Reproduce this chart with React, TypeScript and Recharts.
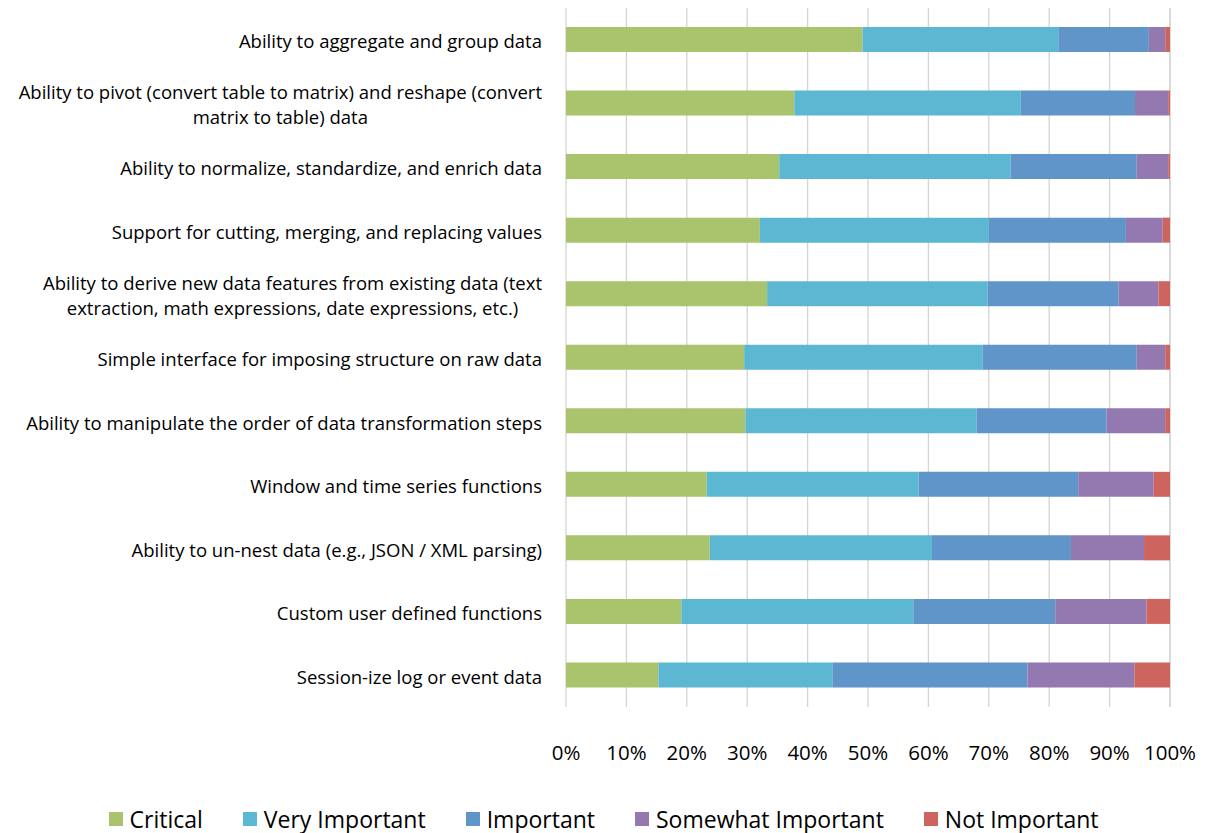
import { BarChart, Bar, XAxis, YAxis, CartesianGrid, Legend } from "recharts";

const categories = [
  "Ability to aggregate and group data",
  "Ability to pivot (convert table to matrix) and reshape (convert\nmatrix to table) data",
  "Ability to normalize, standardize, and enrich data",
  "Support for cutting, merging, and replacing  values",
  "Ability to derive new data features from existing data (text\nextraction, math expressions, date expressions, etc.)",
  "Simple interface for imposing structure on raw data",
  "Ability to manipulate the order of data transformation steps",
  "Window and time series functions",
  "Ability to un-nest data (e.g., JSON / XML parsing)",
  "Custom user defined functions",
  "Session-ize log or event data",
];

const critical = [49.1, 37.8, 35.3, 32.1, 33.3, 29.5, 29.7, 23.3, 23.8, 19.1, 15.3];
const veryImportant = [32.4, 37.5, 38.3, 37.9, 36.5, 39.5, 38.3, 35.1, 36.8, 38.4, 28.8];
const important = [15.0, 18.9, 20.9, 22.7, 21.7, 25.5, 21.5, 26.4, 23.0, 23.5, 32.3];
const somewhat = [2.7, 5.5, 5.2, 6.1, 6.6, 4.7, 9.7, 12.5, 12.1, 15.1, 17.7];
const notImportant = [0.8, 0.3, 0.3, 1.2, 1.9, 0.8, 0.8, 2.7, 4.3, 3.9, 5.9];

const xTicks = [0, 10, 20, 30, 40, 50, 60, 70, 80, 90, 100];

const seriesKeys = ["critical", "veryImportant", "important", "somewhat", "notImportant"];
const seriesNames = ["Critical", "Very Important", "Important", "Somewhat Important", "Not Important"];
const colors = ["#A9C46C", "#5BB7D2", "#5F95C8", "#9379B0", "#CD645E"];

const data = categories.map((name, i) => ({
  name,
  critical: critical[i],
  veryImportant: veryImportant[i],
  important: important[i],
  somewhat: somewhat[i],
  notImportant: notImportant[i],
}));

const FONT = "'Open Sans', sans-serif";
const LABEL_SIZE = 18.5;
const PLOT_LEFT = 566;
const LABEL_RIGHT = 542;

let ctx: CanvasRenderingContext2D | null = null;
function measure(text: string) {
  if (!ctx) ctx = document.createElement("canvas").getContext("2d");
  if (!ctx) return text.length * 8;
  ctx.font = `${LABEL_SIZE}px ${FONT}`;
  return ctx.measureText(text).width;
}

function CategoryTick(props: any) {
  const { y, payload } = props;
  const lines: string[] = String(payload.value).split("\n");
  const lh = 25;
  const multi = lines.length > 1;
  const maxW = Math.max(...lines.map(measure));
  const x = multi ? LABEL_RIGHT - maxW / 2 : LABEL_RIGHT;
  return (
    <text
      x={x}
      y={y}
      textAnchor={multi ? "middle" : "end"}
      fill="#000"
      fontSize={LABEL_SIZE}
      fontFamily={FONT}
    >
      {lines.map((l, i) => (
        <tspan key={i} x={x} y={y + 2 + (i - (lines.length - 1) / 2) * lh} dy="0.35em">
          {l}
        </tspan>
      ))}
    </text>
  );
}

export default function App() {
  return (
    <div style={{ position: "absolute", left: 0, top: 0, width: 1207, height: 833, background: "#fff" }}>
      <BarChart
        width={1207}
        height={833}
        data={data}
        layout="vertical"
        margin={{ top: 8, right: 37, left: 0, bottom: 66 }}
        barSize={25}
      >
        <CartesianGrid horizontal={false} stroke="#d4d4d4" strokeWidth={1.3} />
        <XAxis
          type="number"
          domain={[0, 100]}
          ticks={xTicks}
          tickFormatter={(v) => `${v}%`}
          axisLine={false}
          tickLine={false}
          tickMargin={32}
          height={60}
          interval={0}
          tick={{ fill: "#000", fontSize: 20.5, fontFamily: FONT }}
        />
        <YAxis
          type="category"
          dataKey="name"
          width={PLOT_LEFT}
          axisLine={false}
          tickLine={false}
          interval={0}
          tick={<CategoryTick />}
        />
        <Legend
          verticalAlign="middle"
          align="center"
          wrapperStyle={{ top: 806, left: 0, width: 1207 }}
          content={() => (
            <div
              style={{
                display: "flex",
                justifyContent: "center",
                gap: 40,
                fontFamily: FONT,
                fontSize: 23,
                lineHeight: "26px",
                color: "#000",
              }}
            >
              {seriesNames.map((n, i) => (
                <div key={n} style={{ display: "flex", alignItems: "center", gap: 7 }}>
                  <span style={{ display: "inline-block", width: 14, height: 14, background: colors[i] }} />
                  <span>{n}</span>
                </div>
              ))}
            </div>
          )}
        />
        {seriesKeys.map((k, i) => (
          <Bar
            key={k}
            dataKey={k}
            name={seriesNames[i]}
            stackId="a"
            fill={colors[i]}
            isAnimationActive={false}
          />
        ))}
      </BarChart>
    </div>
  );
}
